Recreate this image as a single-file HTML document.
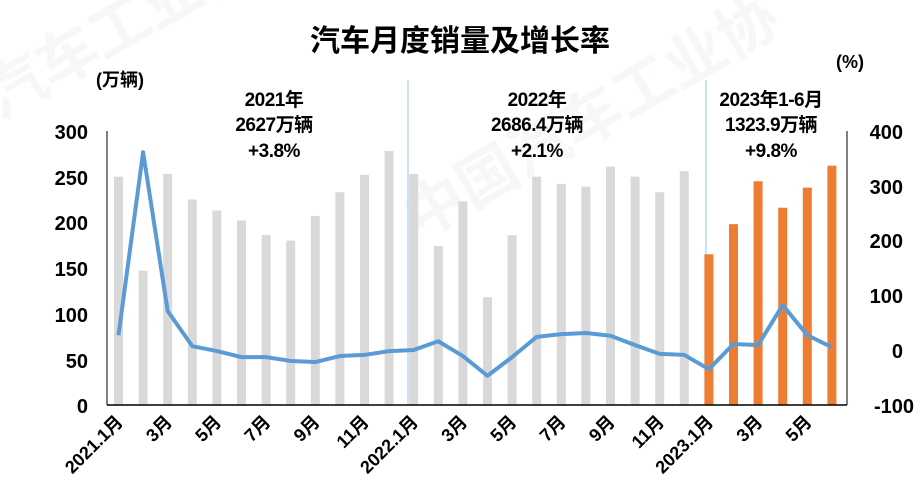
<!DOCTYPE html>
<html><head><meta charset="utf-8"><style>
body{margin:0;background:#fff;}
svg{display:block;font-family:"Liberation Sans","Noto Sans CJK SC",sans-serif;font-weight:bold;}
</style></head><body>
<svg width="920" height="501" viewBox="0 0 920 501">
<g fill="#eef2f6" font-size="60" opacity="0.6">
<text x="0" y="120" transform="rotate(-30 0 120)">汽车工业协</text>
<text x="420" y="240" transform="rotate(-30 420 240)">中国汽车工业协</text>
</g>
<text x="460" y="51" font-size="30" text-anchor="middle" fill="#000">汽车月度销量及增长率</text>
<text x="96" y="86" font-size="18" fill="#000">(万辆)</text>
<text x="836" y="68" font-size="18" fill="#000">(%)</text>
<g font-size="19" text-anchor="middle" fill="#000" letter-spacing="-0.5">
<text x="274" y="106">2021年</text><text x="274" y="131">2627万辆</text><text x="274" y="157">+3.8%</text>
<text x="537" y="106">2022年</text><text x="537" y="131">2686.4万辆</text><text x="537" y="157">+2.1%</text>
<text x="771" y="106">2023年1-6月</text><text x="771" y="131">1323.9万辆</text><text x="771" y="157">+9.8%</text>
</g>
<g font-size="20" text-anchor="end" fill="#000">
<text x="88" y="139">300</text><text x="88" y="185">250</text><text x="88" y="230">200</text><text x="88" y="276">150</text><text x="88" y="322">100</text><text x="88" y="368">50</text><text x="88" y="413">0</text>
</g>
<g font-size="20" text-anchor="end" fill="#000">
<text x="903" y="139">400</text><text x="903" y="194">300</text><text x="903" y="248">200</text><text x="903" y="303">100</text><text x="903" y="358">0</text><text x="914" y="413">-100</text>
</g>
<line x1="408" y1="80" x2="408" y2="405" stroke="#9dc3e6" stroke-width="1"/>
<line x1="706" y1="80" x2="706" y2="405" stroke="#9dc3e6" stroke-width="1"/>
<g id="bars"></g>
<line x1="107" y1="405" x2="847" y2="405" stroke="#000" stroke-width="1.5"/>
<line x1="107" y1="131" x2="107" y2="405" stroke="#000" stroke-width="1"/>
<line x1="847" y1="131" x2="847" y2="405" stroke="#000" stroke-width="1"/>
<polyline id="ln" fill="none" stroke="#5b9bd5" stroke-width="4" stroke-linejoin="round"/>
<g id="lbl" font-size="18" fill="#000" text-anchor="end"></g>
</svg>
<script>
var b=[250,147,253,225,213,202,186,180,207,233,252,278,253,174,223,118,186,250,242,239,261,250,233,256,165,198,245,216,238,262];
var l=[27,361,71,7,-2,-13,-13,-20,-22,-11,-9,-2,0,16,-11,-47,-13,24,29,31,26,9,-7,-9,-35,11,9,82,27,5];
var ns="http://www.w3.org/2000/svg",g=document.getElementById('bars'),pts=[];
for(var i=0;i<30;i++){var x=118.5+i*24.6,h=b[i]*274/300;
var r=document.createElementNS(ns,'rect');r.setAttribute('x',x-4.5);r.setAttribute('width',9);r.setAttribute('y',405-h);r.setAttribute('height',h);r.setAttribute('fill',i>=24?'#ed7d31':'#d9d9d9');g.appendChild(r);
pts.push(x+','+(350-l[i]*0.548));}
document.getElementById('ln').setAttribute('points',pts.join(' '));
var labs=['2021.1月','3月','5月','7月','9月','11月','2022.1月','3月','5月','7月','9月','11月','2023.1月','3月','5月'],lg=document.getElementById('lbl');
for(var k=0;k<15;k++){var x=124+k*49.2,y=423;var t=document.createElementNS(ns,'text');t.setAttribute('x',x);t.setAttribute('y',y);t.setAttribute('transform','rotate(-45 '+x+' '+y+')');t.textContent=labs[k];lg.appendChild(t);}
</script>
</body></html>
